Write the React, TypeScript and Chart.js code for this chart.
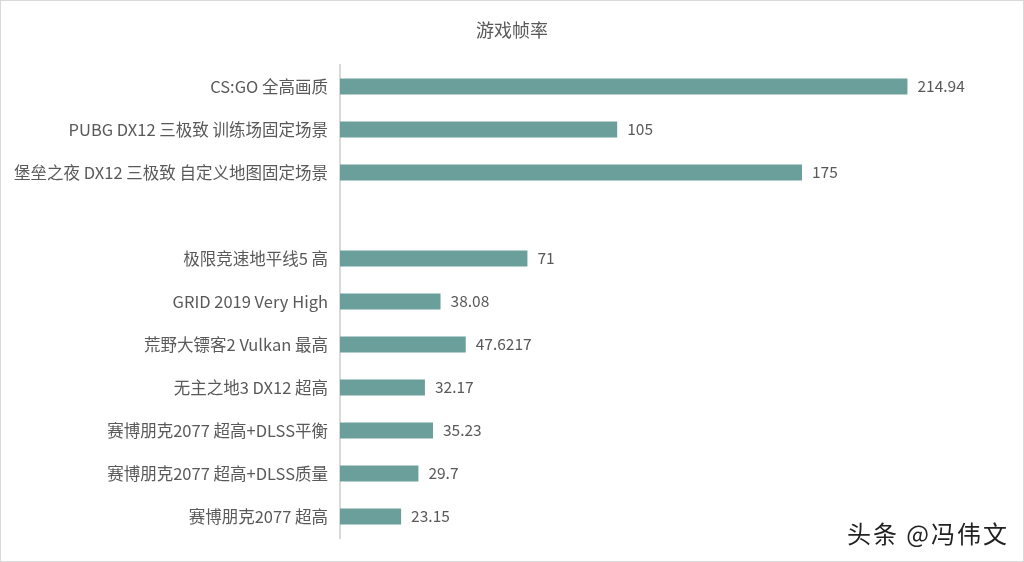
import { useEffect, useRef } from 'react';
import { Chart, registerables } from 'chart.js';

Chart.register(...registerables);

const title = '游戏帧率';
const categories = [
  'CS:GO 全高画质',
  'PUBG DX12 三极致 训练场固定场景',
  '堡垒之夜 DX12 三极致 自定义地图固定场景',
  '',
  '极限竞速地平线5 高',
  'GRID 2019 Very High',
  '荒野大镖客2 Vulkan 最高',
  '无主之地3 DX12 超高',
  '赛博朋克2077 超高+DLSS平衡',
  '赛博朋克2077 超高+DLSS质量',
  '赛博朋克2077 超高',
];
const fps = [214.94, 105, 175, null, 71, 38.08, 47.6217, 32.17, 35.23, 29.7, 23.15];
const xMax = 250;

const FONT = '"Noto Sans CJK SC", "Noto Sans", sans-serif';
const TEXT = '#595959';
const BAR = '#6a9f9b';

// value at the end of each bar
const valueLabels = {
  id: 'valueLabels',
  afterDatasetsDraw(chart: Chart) {
    const { ctx } = chart;
    const meta = chart.getDatasetMeta(0);
    ctx.save();
    ctx.font = `15.5px ${FONT}`;
    ctx.fillStyle = TEXT;
    ctx.textAlign = 'left';
    ctx.textBaseline = 'middle';
    meta.data.forEach((el: any, i: number) => {
      const v = fps[i];
      if (v == null) return;
      ctx.fillText(String(v), el.x + 10, el.y);
    });
    ctx.restore();
  },
};

// title centred on the whole canvas (the built-in one centres on the padded box)
const centredTitle = {
  id: 'centredTitle',
  afterDraw(chart: Chart) {
    const { ctx } = chart;
    ctx.save();
    ctx.font = `18px ${FONT}`;
    ctx.fillStyle = TEXT;
    ctx.textAlign = 'center';
    ctx.textBaseline = 'middle';
    ctx.fillText(title, chart.width / 2, 29);
    ctx.restore();
  },
};

export default function App() {
  const canvasRef = useRef<HTMLCanvasElement | null>(null);
  const chartRef = useRef<Chart | null>(null);

  useEffect(() => {
    if (!canvasRef.current) return;
    if (chartRef.current) chartRef.current.destroy();

    chartRef.current = new Chart(canvasRef.current, {
      type: 'bar',
      data: {
        labels: categories,
        datasets: [
          {
            data: fps,
            backgroundColor: BAR,
            barPercentage: 0.6,
            categoryPercentage: 0.62,
          },
        ],
      },
      options: {
        indexAxis: 'y',
        animation: false,
        responsive: false,
        maintainAspectRatio: false,
        layout: { padding: { top: 64, right: 23, bottom: 23, left: 0 } },
        scales: {
          x: { display: false, min: 0, max: xMax },
          y: {
            grid: { display: false },
            border: { display: true, color: '#d9d9d9', width: 2 },
            ticks: {
              color: TEXT,
              padding: 4,
              font: { family: FONT, size: 16.5 },
            },
            afterFit: (scale: any) => {
              scale.width = 339;
            },
          },
        },
        plugins: {
          legend: { display: false },
          tooltip: { enabled: false },
          title: { display: false },
        },
      } as any,
      plugins: [valueLabels, centredTitle],
    });

    return () => {
      if (chartRef.current) {
        chartRef.current.destroy();
        chartRef.current = null;
      }
    };
  }, []);

  return (
    <div
      style={{
        position: 'fixed',
        left: 0,
        top: 0,
        width: 1024,
        height: 562,
        boxSizing: 'border-box',
        border: '1px solid #d9d9d9',
        background: '#fff',
        overflow: 'hidden',
      }}
    >
      <canvas ref={canvasRef} width={1022} height={560} style={{ display: 'block' }} />
      <div
        style={{
          position: 'absolute',
          right: 14,
          bottom: 11,
          fontFamily: FONT,
          fontSize: 24,
          letterSpacing: 2,
          color: '#222',
          textShadow: '0 0 2px #fff, 0 0 2px #fff',
        }}
      >
        头条 @冯伟文
      </div>
    </div>
  );
}
